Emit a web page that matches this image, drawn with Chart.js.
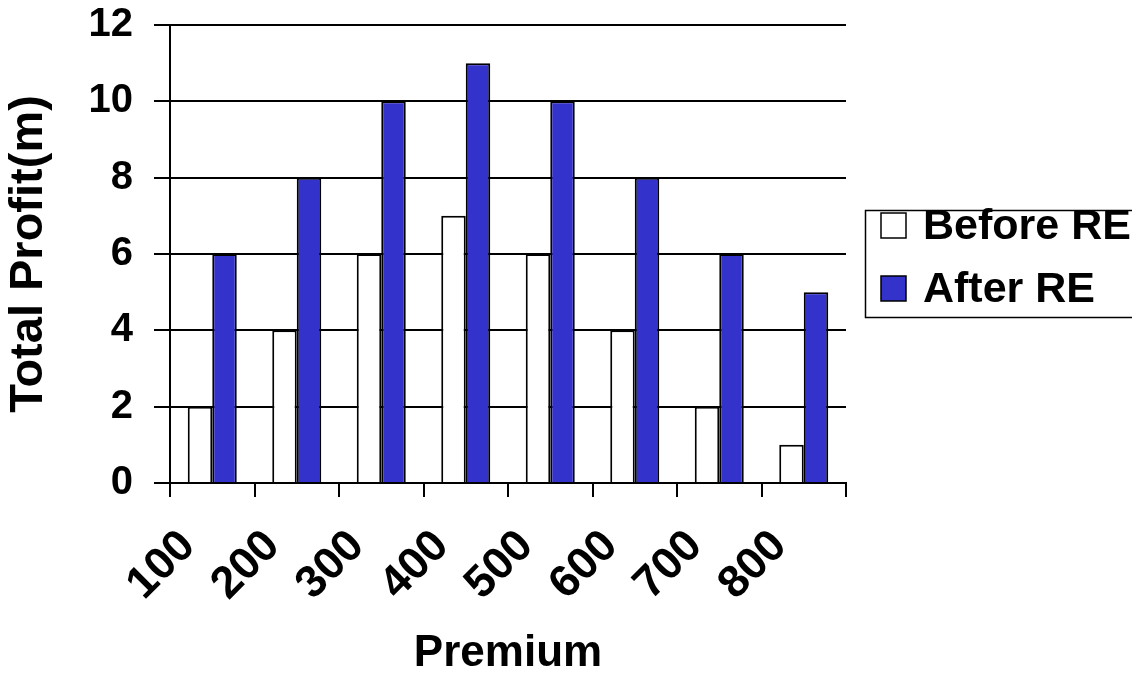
<!DOCTYPE html>
<html>
<head>
<meta charset="utf-8">
<title>Total Profit by Premium</title>
<script src="https://cdn.jsdelivr.net/npm/chart.js@4/dist/chart.umd.min.js"></script>
<style>
  html, body { margin: 0; padding: 0; background: #ffffff; }
  #wrap { width: 1132px; height: 676px; }
</style>
</head>
<body>
<div id="wrap"><canvas id="c" width="1132" height="676"></canvas></div>
<script>
// Data
const premiums = ['100', '200', '300', '400', '500', '600', '700', '800'];
const beforeRE = [2, 4, 6, 7, 6, 4, 2, 1];
const afterRE = [6, 8, 10, 11, 10, 8, 6, 5];
const seriesNames = ['Before RE', 'After RE'];
const yMin = 0, yMax = 12, yStep = 2;

const FONT = '"Liberation Sans", Arial, Helvetica, sans-serif';

// Framed legend drawn to the right of the plot
const boxedLegend = {
  id: 'boxedLegend',
  afterDraw(chart) {
    const ctx = chart.ctx;
    ctx.save();
    ctx.strokeStyle = '#000';
    ctx.lineWidth = 1.5;
    ctx.strokeRect(865.5, 210.5, 300, 107);
    ctx.font = 'bold 43px ' + FONT;
    ctx.textBaseline = 'middle';
    ctx.textAlign = 'left';
    chart.data.datasets.forEach((ds, i) => {
      const cy = 226 + i * 63;
      ctx.fillStyle = ds.backgroundColor;
      ctx.fillRect(881, cy - 13, 25, 25);
      ctx.lineWidth = 1.5;
      ctx.strokeStyle = '#000';
      ctx.strokeRect(881, cy - 13, 25, 25);
      ctx.fillStyle = '#000';
      ctx.fillText(ds.label, 923, cy + 1);
    });
    ctx.restore();
  }
};

new Chart(document.getElementById('c'), {
  type: 'bar',
  data: {
    labels: premiums,
    datasets: [
      {
        label: seriesNames[0],
        data: beforeRE,
        backgroundColor: '#ffffff',
        borderColor: '#000000',
        borderWidth: 2,
        categoryPercentage: 0.58,
        barPercentage: 1.0
      },
      {
        label: seriesNames[1],
        data: afterRE,
        backgroundColor: '#3333cc',
        borderColor: '#000000',
        borderWidth: 2,
        categoryPercentage: 0.58,
        barPercentage: 1.0
      }
    ]
  },
  options: {
    responsive: false,
    animation: false,
    devicePixelRatio: 1,
    layout: { padding: { top: 25, right: 286, bottom: 0, left: 0 } },
    plugins: {
      legend: { display: false },
      tooltip: { enabled: false }
    },
    scales: {
      x: {
        afterFit(scale) { scale.height = 193; },
        grid: {
          display: true,
          drawOnChartArea: false,
          drawTicks: true,
          tickLength: 14,
          offset: true,
          color: '#000',
          lineWidth: 2
        },
        border: { display: true, color: '#000', width: 2 },
        ticks: {
          autoSkip: false,
          minRotation: 45,
          maxRotation: 45,
          padding: 26,
          labelOffset: -24,
          color: '#000',
          font: { family: FONT, size: 45, weight: 'bold', lineHeight: 1 }
        },
        title: {
          display: true,
          text: 'Premium',
          color: '#000',
          padding: { top: 0, bottom: 0 },
          font: { family: FONT, size: 44, weight: 'bold', lineHeight: 1 }
        }
      },
      y: {
        min: yMin,
        max: yMax,
        afterFit(scale) {
          scale.width = 170;
          scale.paddingTop = 0;
          scale.paddingBottom = 0;
        },
        grid: {
          color: '#000',
          lineWidth: 2,
          drawTicks: true,
          tickLength: 16
        },
        border: { display: true, color: '#000', width: 2 },
        ticks: {
          stepSize: yStep,
          padding: 21,
          color: '#000',
          font: { family: FONT, size: 40, weight: 'bold', lineHeight: 1 }
        },
        title: {
          display: true,
          text: 'Total Profit(m)',
          color: '#000',
          padding: { top: 6, bottom: 0 },
          font: { family: FONT, size: 47, weight: 'bold', lineHeight: 1 }
        }
      }
    }
  },
  plugins: [boxedLegend]
});
</script>
</body>
</html>
